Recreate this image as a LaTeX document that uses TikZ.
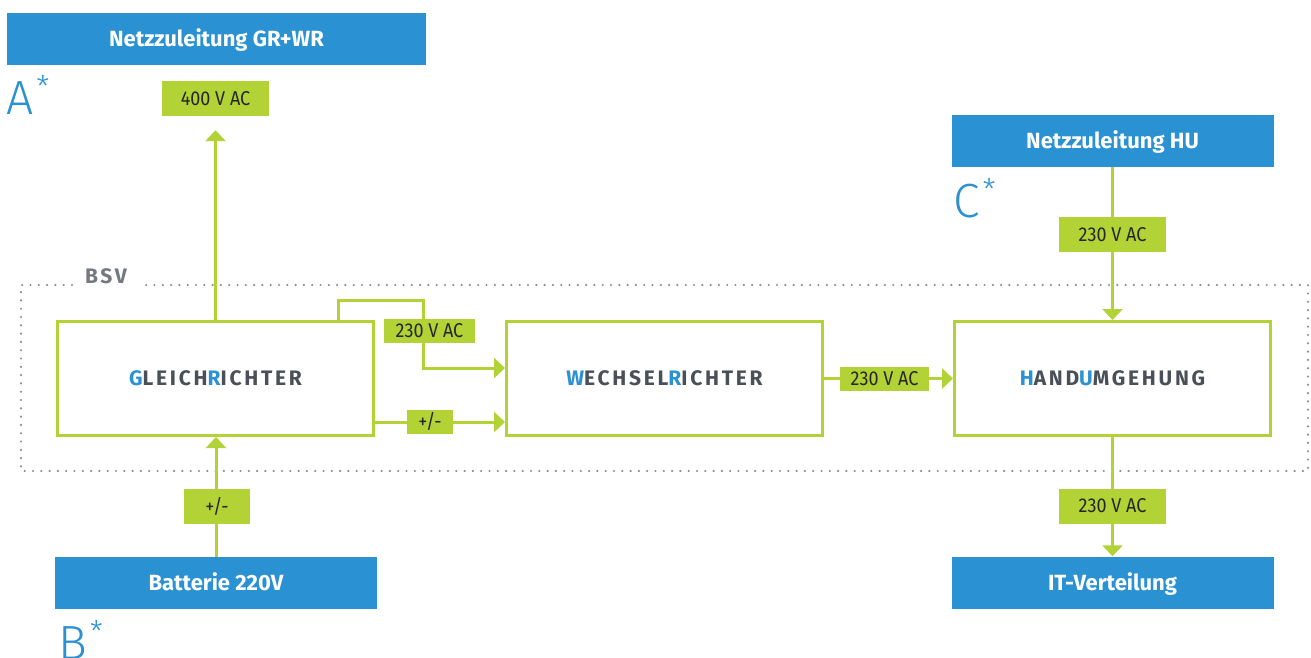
\documentclass[tikz,border=0pt]{standalone}
\usepackage{fontspec}
\setmainfont{Fira Sans}
\newfontfamily\voltfont[FakeStretch=0.9]{Fira Sans}
\newfontfamily\spacedfont[LetterSpace=13]{Fira Sans}
\newfontfamily\markfont{Fira Sans Light}
\usetikzlibrary{arrows.meta}
\definecolor{netzblau}{RGB}{42,145,210}
\definecolor{bsvgruen}{RGB}{178,210,53}
\definecolor{textgrau}{RGB}{74,80,87}
\definecolor{punktgrau}{RGB}{135,142,148}
\newcommand{\hl}[1]{\textcolor{netzblau}{#1}}
\newcommand{\stern}[1]{#1\kern3pt\raisebox{17pt}{\fontsize{30}{30}\selectfont *}}

\begin{document}
\begin{tikzpicture}[x=1pt,y=-1pt,
    feed/.style={fill=netzblau,text=white,minimum width=322pt,minimum height=52pt,inner sep=0pt,
        text height=15.2pt,text depth=0pt,font=\bfseries\fontsize{22}{26}\selectfont},
    unit/.style={draw=bsvgruen,line width=3pt,minimum width=316pt,minimum height=114pt,inner sep=0pt,
        text=textgrau,text height=14.5pt,text depth=0pt,font=\spacedfont\bfseries\fontsize{21}{25}\selectfont},
    volt/.style={fill=bsvgruen,text=black!85,minimum width=107pt,minimum height=35pt,inner sep=0pt,
        text height=13.8pt,text depth=0pt,font=\voltfont\fontsize{20}{24}\selectfont},
    flow/.style={draw=bsvgruen,line width=3pt,-{Triangle[length=11pt,width=20pt]}},
    letter/.style={anchor=base west,inner sep=0pt,text=netzblau,font=\markfont\fontsize{48}{48}\selectfont},
    frame/.style={draw=punktgrau,line width=2.4pt,line cap=round,dash pattern=on 0pt off 8.3pt}
  ]
  \useasboundingbox (0,0) rectangle (1311,657);

  \node[feed,minimum width=419pt] (netzgr) at (216.5,39) {Netzzuleitung GR+WR};
  \node[feed] (netzhu) at (1112.5,141) {Netzzuleitung HU};
  \node[feed] (bat) at (216,583) {Batterie 220V};
  \node[feed] (it) at (1112.5,582.5) {IT-Verteilung};

  \node[letter] (markA) at (6,114) {\stern{A}};
  \node[letter] (markB) at (58,659) {\stern{B}};
  \node[letter] (markC) at (953,217) {\stern{C}};

  \draw[frame] (72,285) -| (21,471) -| (1308,285) -- (142,285);
  \node[inner sep=0pt,text=punktgrau!85!black,font=\spacedfont\bfseries\fontsize{21}{25}\selectfont] (bsv) at (106,276) {BSV};

  \node[unit] (gr) at (215.5,378.5) {\hl{G}LEICH\hl{R}ICHTER};
  \node[unit] (wr) at (664.5,378.5) {\hl{W}ECHSEL\hl{R}ICHTER};
  \node[unit] (hu) at (1112.5,378.5) {\hl{H}AND\hl{U}MGEHUNG};

  \node[volt] (v400) at (215.5,98.5) {400 V AC};

  \coordinate (knick) at (423,300);
  \draw[flow,shorten >=14pt] (gr.north) -- (v400.south);
  \draw[flow] (bat.north) -- (bat.north |- gr.south);
  \draw[flow] ([xshift=-36.5pt]gr.north east) |- (knick) |- ([yshift=10.5pt]wr.west);
  \draw[flow] ([yshift=-43.5pt]gr.east) -- ([yshift=-43.5pt]wr.west);
  \draw[flow] (wr.east) -- (hu.west);
  \draw[flow] (netzhu.south) -- (hu.north);
  \draw[flow] (hu.south) -- (it.north);

  \node[volt,minimum width=66pt] (vbat) at (217,506.5) {+/-};
  \node[volt,minimum width=91pt,minimum height=24pt] (vloop) at (429.5,331) {230 V AC};
  \node[volt,minimum width=46pt,minimum height=24pt] (vpm) at (430,422) {+/-};
  \node[volt,minimum width=89pt,minimum height=24pt] (vwr) at (884.5,379) {230 V AC};
  \node[volt] (vhu) at (1112.5,234.5) {230 V AC};
  \node[volt] (vit) at (1112.5,506) {230 V AC};
\end{tikzpicture}
\end{document}
